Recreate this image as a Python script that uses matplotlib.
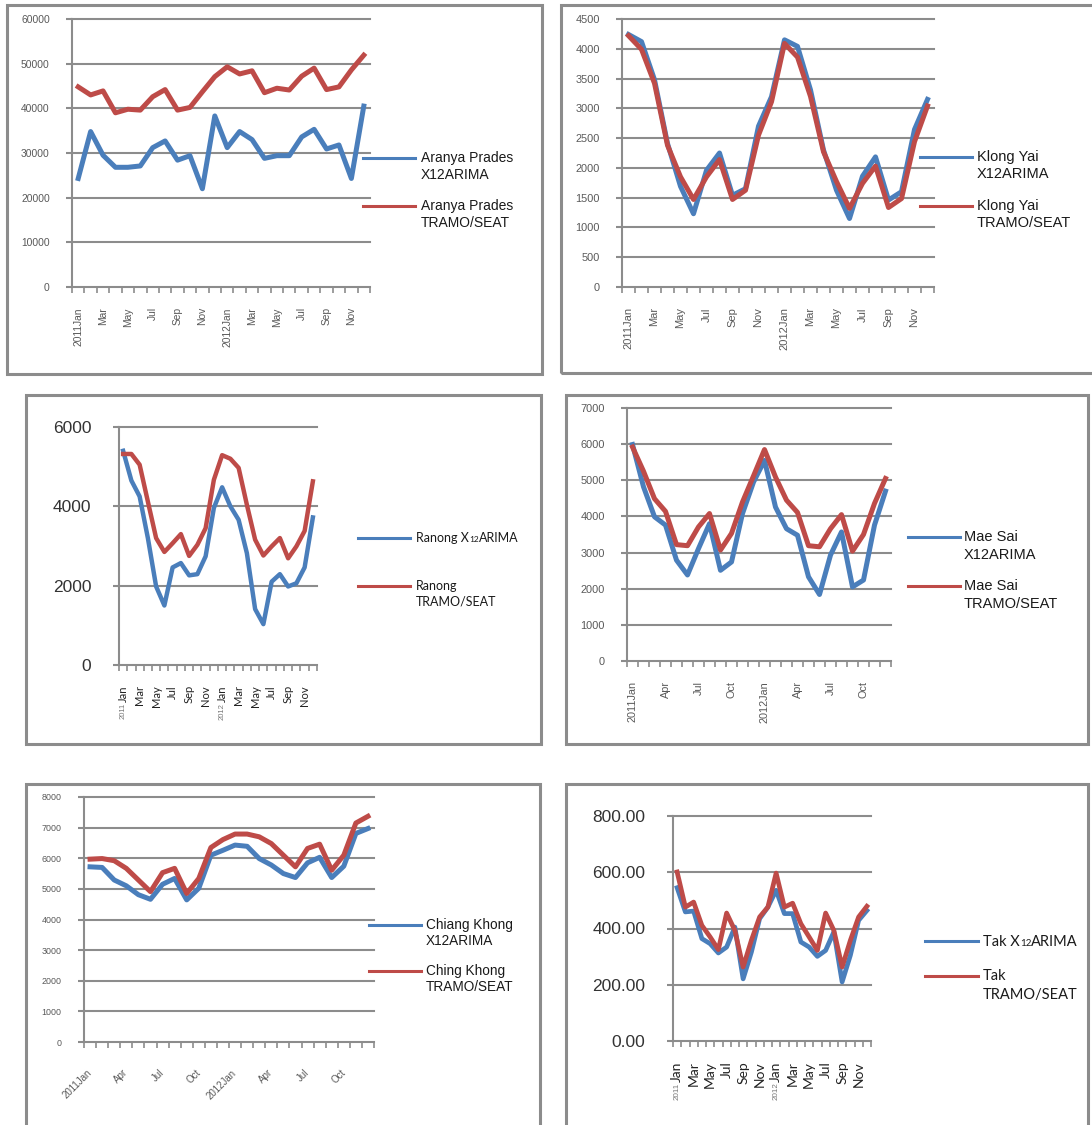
import matplotlib
matplotlib.use('Agg')
import numpy as np
import matplotlib.pyplot as plt
from matplotlib.lines import Line2D
from matplotlib.patches import Rectangle
from matplotlib.transforms import IdentityTransform

# ---- data (Jan 2011 .. Dec 2012) ----
aranya_x12 = [24300, 34800, 29500, 26800, 26800, 27100, 31200, 32700, 28400, 29400, 22000, 38300,
              31200, 34800, 33000, 28800, 29400, 29400, 33600, 35300, 30900, 31800, 24300, 40500]
aranya_ts = [44800, 43000, 43900, 39000, 39800, 39600, 42600, 44200, 39600, 40200, 43700, 47100,
             49300, 47700, 48400, 43500, 44500, 44100, 47200, 49000, 44200, 44800, 48600, 51900]

klong_x12 = [4240, 4120, 3480, 2410, 1690, 1230, 1960, 2250, 1540, 1650, 2700, 3195,
             4150, 4040, 3310, 2300, 1625, 1150, 1860, 2185, 1460, 1600, 2645, 3150]
klong_ts = [4220, 3990, 3420, 2380, 1850, 1470, 1850, 2140, 1470, 1625, 2550, 3110,
            4090, 3860, 3200, 2270, 1770, 1320, 1740, 2030, 1335, 1485, 2440, 3040]

ranong_x12 = [5400, 4650, 4250, 3200, 1980, 1500, 2460, 2570, 2260, 2290, 2740, 3960,
              4480, 4000, 3660, 2820, 1410, 1030, 2100, 2290, 1980, 2060, 2460, 3720]
ranong_ts = [5320, 5320, 5050, 4120, 3200, 2850, 3070, 3300, 2750, 3030, 3450, 4670,
             5290, 5200, 4970, 4040, 3160, 2760, 2990, 3200, 2690, 2990, 3380, 4630]

maesai_x12 = [5990, 4820, 3990, 3760, 2790, 2380, 3110, 3800, 2510, 2740, 4080, 4950,
              5550, 4260, 3660, 3480, 2330, 1840, 2930, 3570, 2050, 2240, 3760, 4700]
maesai_ts = [5920, 5250, 4490, 4140, 3220, 3190, 3710, 4080, 3070, 3530, 4400, 5120,
             5850, 5090, 4450, 4110, 3190, 3160, 3660, 4050, 3040, 3500, 4360, 5050]

chiang_x12 = [5720, 5700, 5290, 5100, 4810, 4660, 5150, 5340, 4640, 5020, 6100, 6260,
              6430, 6390, 5990, 5780, 5500, 5370, 5850, 6030, 5370, 5740, 6810, 6970]
chiang_ts = [5970, 5990, 5920, 5670, 5290, 4910, 5530, 5670, 4850, 5340, 6350, 6610,
             6790, 6790, 6700, 6480, 6100, 5720, 6320, 6460, 5610, 6100, 7150, 7370]

tak_x12 = [545, 459, 462, 364, 346, 313, 334, 405, 221, 316, 435, 476,
           536, 453, 453, 352, 334, 301, 322, 388, 210, 305, 429, 464]
tak_ts = [601, 476, 494, 411, 370, 325, 455, 393, 263, 358, 441, 476,
          597, 476, 490, 417, 370, 322, 455, 393, 263, 358, 441, 479]

labels_2m = ['2011Jan', 'Mar', 'May', 'Jul', 'Sep', 'Nov', '2012Jan', 'Mar', 'May', 'Jul', 'Sep', 'Nov']
labels_3m = ['2011Jan', 'Apr', 'Jul', 'Oct', '2012Jan', 'Apr', 'Jul', 'Oct']
labels_2m_short = ['Jan', 'Mar', 'May', 'Jul', 'Sep', 'Nov', 'Jan', 'Mar', 'May', 'Jul', 'Sep', 'Nov']
years = ['2011', '2012']

BLUE = '#4A7EBB'
RED = '#BE4B48'
GRID = '#8C8C8C'
W, H = 1092, 1125

fig = plt.figure(figsize=(W / 100, H / 100), dpi=100)
plt.rcParams['font.family'] = ['Liberation Sans', 'DejaVu Sans']


def fx(x):
    return x / W


def fy(y):
    return 1 - y / H


def frame(x0, y0, x1, y1):
    fig.add_artist(Rectangle((fx(x0), fy(y1)), (x1 - x0) / W, (y1 - y0) / H, fill=False,
                             edgecolor=GRID, lw=2.2, transform=fig.transFigure))


def legend_line(x0, x1, y, color):
    fig.add_artist(Line2D([fx(x0), fx(x1)], [fy(y), fy(y)], color=color, lw=2.2,
                          transform=fig.transFigure))


def rich(x, y, parts, family):
    # pieces of text on one baseline, placed left to right
    r = fig.canvas.get_renderer()
    xd = x
    for s, size in parts:
        t = fig.text(fx(xd), fy(y), s, fontsize=size, family=family, color='#1a1a1a', va='baseline')
        bb = t.get_window_extent(r)
        xd = bb.x1


def panel(box, x12, ts, ymax, step, yfmt, ticks_at, labels, yfs, xfs, ypad,
          ycol='#595959', xcol='#595959', rot=90, lw=3.6, xfam='Liberation Sans', xweight='normal'):
    x0, y0, x1, y1 = box
    ax = fig.add_axes([fx(x0), fy(y1), (x1 - x0) / W, (y1 - y0) / H])
    m = np.arange(len(x12))
    yt = np.arange(0, ymax + step / 2, step)
    for t in yt[1:]:
        ax.axhline(t, color=GRID, lw=1.5, zorder=0.5, clip_on=False)
    ax.plot(m, x12, color=BLUE, lw=lw, clip_on=False, zorder=2)
    ax.plot(m, ts, color=RED, lw=lw, clip_on=False, zorder=3)
    ax.set_xlim(-0.5, len(x12) - 0.5)
    ax.set_ylim(0, ymax)
    for s in ['top', 'right']:
        ax.spines[s].set_visible(False)
    for s in ['left', 'bottom']:
        ax.spines[s].set_color(GRID)
        ax.spines[s].set_linewidth(1.5)
    ax.set_yticks(yt)
    ax.set_yticklabels([yfmt.format(v) for v in yt])
    ax.tick_params(axis='y', length=4, width=1.5, color=GRID, pad=ypad, labelsize=yfs, labelcolor=ycol)
    ax.set_xticks(ticks_at)
    ax.set_xticks(np.arange(-0.5, len(x12)), minor=True)
    ax.tick_params(axis='x', which='minor', length=4, width=1.2, color=GRID)
    if rot == 90:
        ax.set_xticklabels(labels, rotation=90, va='top', ha='center')
        ax.tick_params(axis='x', which='major', length=0, pad=14.5, labelsize=xfs, labelcolor=xcol)
    else:
        ax.set_xticklabels(labels, rotation=45, ha='right', va='center', rotation_mode='anchor')
        ax.tick_params(axis='x', which='major', length=0, pad=21, labelsize=xfs, labelcolor=xcol)
    for t in ax.get_xticklabels():
        t.set_family(xfam)
        t.set_fontweight(xweight)
    ax.patch.set_alpha(0)
    return ax


# frames
frame(7, 5, 542, 374)
frame(561, 5, 1100, 373)
frame(26, 395, 541, 744)
frame(566, 395, 1088, 744)
frame(26, 784, 540, 1140)
frame(566, 784, 1088, 1140)

odd = np.arange(0, 24, 2)
qtr = np.arange(0, 24, 3)

panel((72, 19, 370, 287), aranya_x12, aranya_ts, 60000, 10000, '{:.0f}', odd, labels_2m, 7.4, 7.4, 12)
panel((622, 19, 934, 287), klong_x12, klong_ts, 4500, 500, '{:.0f}', odd, labels_2m, 7.9, 8, 12)
ax3 = panel((119, 427, 317, 665), ranong_x12, ranong_ts, 6000, 2000, '{:.0f}', odd, labels_2m_short, 12.5, 8, 16,
            ycol='#333333', xcol='#222222', lw=3.2, xfam='Lato')
panel((627, 408, 891, 661), maesai_x12, maesai_ts, 7000, 1000, '{:.0f}', qtr, labels_3m, 7.9, 7.8, 12)
panel((84, 797, 374, 1042), chiang_x12, chiang_ts, 8000, 1000, '{:.0f}', qtr, labels_3m, 6.4, 7, 12, rot=45)
ax6 = panel((673, 816, 871, 1041), tak_x12, tak_ts, 800, 200, '{:.2f}', odd, labels_2m_short, 12.5, 10, 16,
            ycol='#333333', xcol='#222222', lw=3.4, xfam='Lato')

# legends
legs = [
    (363, 415, 421, 10, 17, [(158, BLUE, ['Aranya Prades', 'X12ARIMA']), (206, RED, ['Aranya Prades', 'TRAMO/SEAT'])]),
    (920, 972, 977, 10.5, 17, [(157, BLUE, ['Klong Yai', 'X12ARIMA']), (206, RED, ['Klong Yai', 'TRAMO/SEAT'])]),
    (908, 960, 964, 10.5, 18, [(537, BLUE, ['Mae Sai', 'X12ARIMA']), (586, RED, ['Mae Sai', 'TRAMO/SEAT'])]),
    (369, 421, 426, 9.8, 16, [(925, BLUE, ['Chiang Khong', 'X12ARIMA']), (971, RED, ['Ching Khong', 'TRAMO/SEAT'])]),
]
for lx0, lx1, tx, fs, dy, entries in legs:
    for y, c, lines in entries:
        legend_line(lx0, lx1, y, c)
        for i, s in enumerate(lines):
            fig.text(fx(tx), fy(y + i * dy), s, fontsize=fs, color='#1a1a1a', va='center')

# Ranong legend (Lato, small 12)
legend_line(358, 410, 538, BLUE)
rich(416, 538 + 4.5, [('Ranong X', 9), ('12', 6), ('ARIMA', 9)], 'Lato')
legend_line(358, 410, 586, RED)
fig.text(fx(416), fy(586), 'Ranong', fontsize=9, family='Lato', color='#1a1a1a', va='center')
fig.text(fx(416), fy(602), 'TRAMO/SEAT', fontsize=9, family='Lato', color='#1a1a1a', va='center')

# Tak legend
legend_line(925, 978, 941, BLUE)
rich(983, 941 + 5, [('Tak X', 10.5), ('12', 7), ('ARIMA', 10.5)], 'Lato')
legend_line(925, 978, 976, RED)
fig.text(fx(983), fy(976), 'Tak', fontsize=10.5, family='Lato', color='#1a1a1a', va='center')
fig.text(fx(983), fy(995), 'TRAMO/SEAT', fontsize=10.5, family='Lato', color='#1a1a1a', va='center')

# small year prefixes under the "Jan" labels of Ranong and Tak
fig.canvas.draw()
r = fig.canvas.get_renderer()
for ax, ysize in [(ax3, 5.5), (ax6, 5.8)]:
    labs = ax.get_xticklabels()
    for k, yr in zip([0, 6], years):
        bb = labs[k].get_window_extent(r)
        fig.text((bb.x0 + bb.x1) / 2, bb.y0 - 1, yr, fontsize=ysize, color='#777777', rotation=90,
                 ha='center', va='top', transform=IdentityTransform())

fig.savefig('out.png', dpi=100)
